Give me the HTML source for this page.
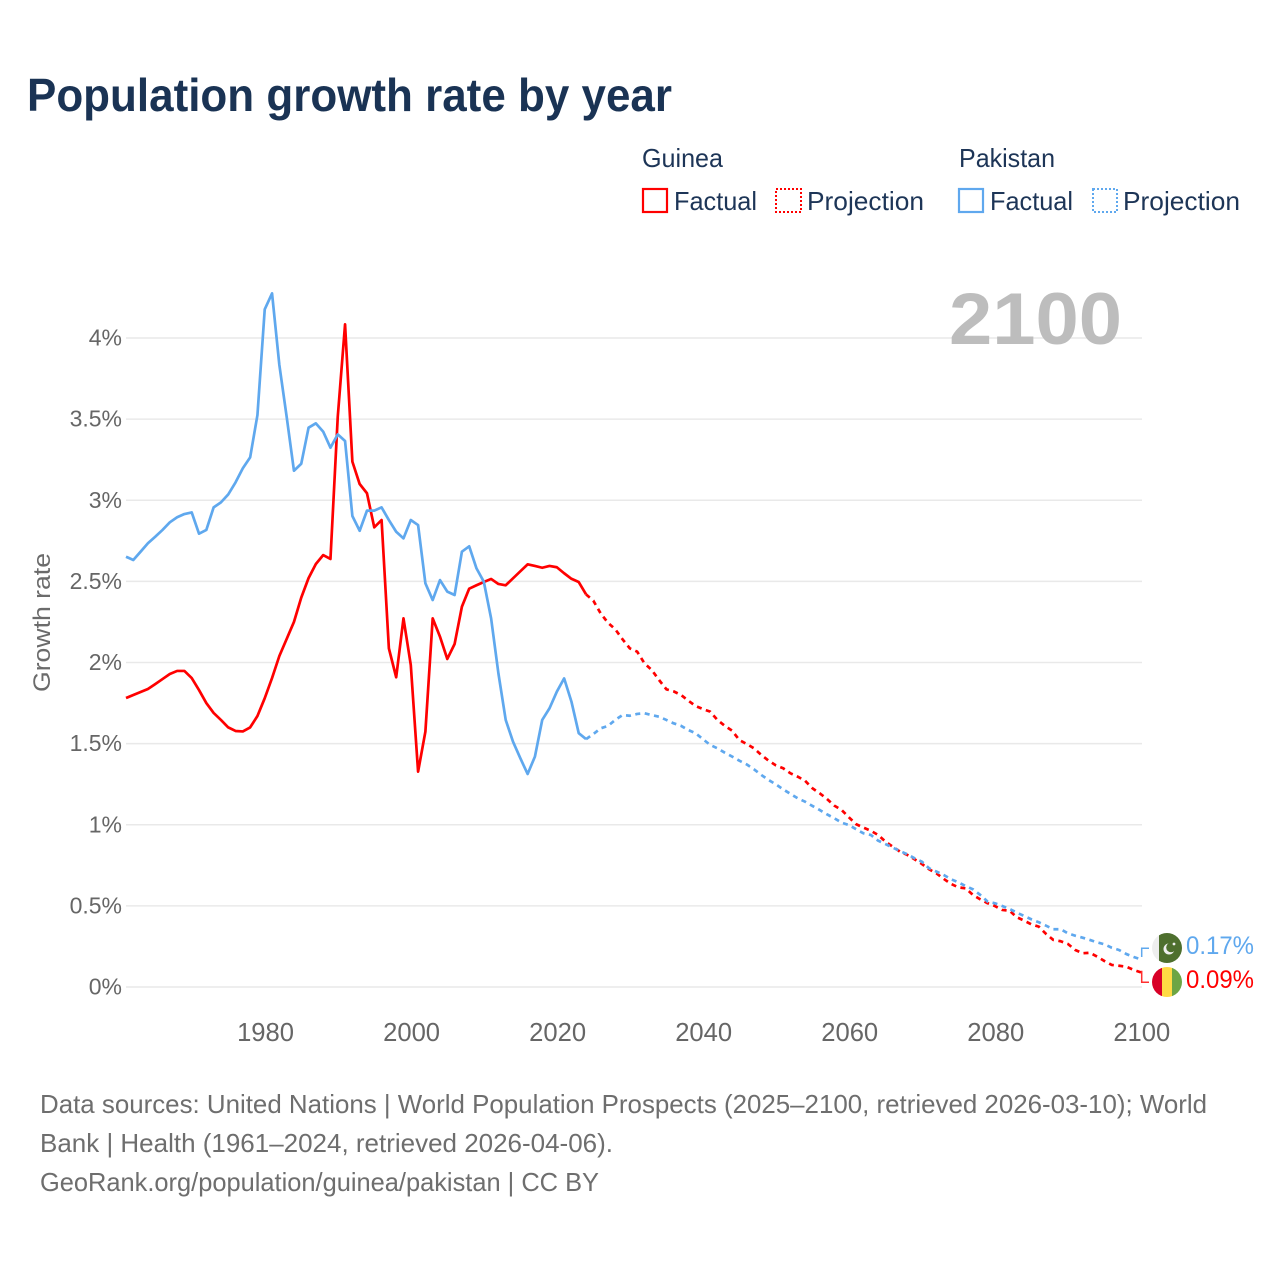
<!DOCTYPE html>
<html lang="en">
<head>
<meta charset="utf-8">
<title>Population growth rate by year</title>
<style>
html,body{margin:0;padding:0;background:#fff}
svg{display:block}
text{font-family:"Liberation Sans",sans-serif}
</style>
</head>
<body>
<svg id="chart" xmlns="http://www.w3.org/2000/svg" width="1280" height="1280" viewBox="0 0 1280 1280">
  <rect x="0" y="0" width="1280" height="1280" fill="#fff"/>
  <text x="27" y="111" font-size="46" font-weight="700" fill="#1a3354" textLength="645" lengthAdjust="spacingAndGlyphs">Population growth rate by year</text>

  <g fill="#1d3557" font-size="26">
    <text x="642" y="167" textLength="81" lengthAdjust="spacingAndGlyphs">Guinea</text>
    <rect x="643" y="189" width="24" height="23" fill="none" stroke="#ff0000" stroke-width="2.2"/>
    <text x="674" y="210" textLength="83" lengthAdjust="spacingAndGlyphs">Factual</text>
    <rect x="776" y="189" width="25" height="23" fill="none" stroke="#ff0000" stroke-width="2" stroke-dasharray="2 2"/>
    <text x="807" y="210" textLength="117" lengthAdjust="spacingAndGlyphs">Projection</text>
    <text x="959" y="167" textLength="96" lengthAdjust="spacingAndGlyphs">Pakistan</text>
    <rect x="959" y="189" width="24" height="23" fill="none" stroke="#5fa8ee" stroke-width="2.2"/>
    <text x="990" y="210" textLength="83" lengthAdjust="spacingAndGlyphs">Factual</text>
    <rect x="1093" y="189" width="24" height="23" fill="none" stroke="#5fa8ee" stroke-width="2" stroke-dasharray="2 2"/>
    <text x="1123" y="210" textLength="117" lengthAdjust="spacingAndGlyphs">Projection</text>
  </g>

  <text transform="translate(50,622.5) rotate(-90)" text-anchor="middle" font-size="24" fill="#6b6b6b" textLength="139" lengthAdjust="spacingAndGlyphs">Growth rate</text>

  <g id="grid"></g>
  <g id="yticks"></g>
  <g id="xticks"></g>

  <text x="949" y="344" font-size="73" font-weight="700" fill="#bdbdbd" textLength="173" lengthAdjust="spacingAndGlyphs">2100</text>

  <g id="series"></g>

  <path d="M1141.7 957V948.3H1149" fill="none" stroke="#5fa8ee" stroke-width="1.5"/>
  <path d="M1141.7 970.7V982.3H1149" fill="none" stroke="#ff3030" stroke-width="1.5"/>

  <defs>
    <clipPath id="flag-clip-pk"><circle cx="1167" cy="948" r="15"/></clipPath>
    <clipPath id="flag-clip-gn"><circle cx="1167" cy="982" r="15"/></clipPath>
  </defs>
  <g clip-path="url(#flag-clip-pk)">
    <rect x="1152" y="933" width="8" height="30" fill="#eeeeee"/>
    <rect x="1159" y="933" width="23" height="30" fill="#4e6f2e"/>
    <circle cx="1169" cy="949" r="5.5" fill="#eeeeee"/>
    <circle cx="1171" cy="947.5" r="4.8" fill="#4e6f2e"/>
    <circle cx="1174" cy="944" r="1.4" fill="#eeeeee"/>
  </g>
  <g clip-path="url(#flag-clip-gn)">
    <rect x="1152" y="967" width="10" height="30" fill="#d80027"/>
    <rect x="1162" y="967" width="10" height="30" fill="#ffda44"/>
    <rect x="1172" y="967" width="10" height="30" fill="#6da544"/>
  </g>
  <text x="1186" y="954" font-size="25" fill="#5fa8ee" textLength="68" lengthAdjust="spacingAndGlyphs">0.17%</text>
  <text x="1186" y="988" font-size="25" fill="#ff0000" textLength="68" lengthAdjust="spacingAndGlyphs">0.09%</text>

  <g font-size="26" fill="#6e6e6e">
    <text x="40" y="1113" textLength="1167" lengthAdjust="spacingAndGlyphs">Data sources: United Nations | World Population Prospects (2025–2100, retrieved 2026-03-10); World</text>
    <text x="40" y="1152" textLength="573" lengthAdjust="spacingAndGlyphs">Bank | Health (1961–2024, retrieved 2026-04-06).</text>
    <text x="40" y="1191" textLength="559" lengthAdjust="spacingAndGlyphs">GeoRank.org/population/guinea/pakistan | CC BY</text>
  </g>
</svg>
<script>
const factualStartYear = 1961;
const projectionStartYear = 2024;
const xTickYears = [1980, 2000, 2020, 2040, 2060, 2080, 2100];
const yTickValues = [0, 0.5, 1, 1.5, 2, 2.5, 3, 3.5, 4];
const yTickLabels = ['0%', '0.5%', '1%', '1.5%', '2%', '2.5%', '3%', '3.5%', '4%'];

const guineaFactual = [1.781,1.80,1.818,1.837,1.867,1.898,1.929,1.948,1.948,1.904,1.83,1.75,1.689,1.646,1.60,1.578,1.575,1.60,1.67,1.78,1.904,2.04,2.145,2.25,2.40,2.52,2.607,2.662,2.638,3.515,4.084,3.238,3.10,3.043,2.833,2.878,2.087,1.909,2.272,1.985,1.327,1.574,2.272,2.159,2.022,2.114,2.344,2.455,2.476,2.496,2.515,2.484,2.476,2.519,2.562,2.605,2.595,2.584,2.595,2.587,2.55,2.516,2.496,2.42];
const guineaProjection = [2.42,2.381,2.303,2.245,2.205,2.143,2.087,2.067,1.995,1.954,1.892,1.835,1.822,1.80,1.765,1.732,1.713,1.697,1.646,1.61,1.58,1.522,1.498,1.471,1.43,1.395,1.366,1.348,1.317,1.296,1.271,1.225,1.194,1.159,1.118,1.091,1.046,1.003,0.982,0.963,0.937,0.896,0.865,0.834,0.814,0.787,0.758,0.725,0.70,0.666,0.635,0.614,0.608,0.567,0.54,0.516,0.499,0.475,0.47,0.43,0.409,0.386,0.372,0.327,0.29,0.282,0.265,0.228,0.208,0.211,0.187,0.16,0.136,0.131,0.125,0.105,0.09];
const pakistanFactual = [2.652,2.632,2.683,2.735,2.775,2.817,2.864,2.895,2.915,2.925,2.794,2.817,2.956,2.987,3.036,3.11,3.197,3.264,3.525,4.177,4.275,3.834,3.515,3.182,3.225,3.447,3.474,3.423,3.324,3.406,3.365,2.903,2.812,2.936,2.936,2.956,2.878,2.806,2.765,2.878,2.847,2.488,2.385,2.508,2.437,2.416,2.683,2.716,2.58,2.498,2.272,1.933,1.646,1.512,1.41,1.313,1.42,1.646,1.718,1.82,1.902,1.759,1.564,1.528];
const pakistanProjection = [1.528,1.559,1.594,1.609,1.646,1.676,1.672,1.683,1.687,1.676,1.666,1.646,1.625,1.61,1.584,1.564,1.528,1.492,1.471,1.444,1.42,1.395,1.372,1.342,1.307,1.276,1.249,1.218,1.19,1.163,1.142,1.116,1.091,1.064,1.04,1.013,0.998,0.972,0.947,0.937,0.902,0.881,0.859,0.838,0.818,0.793,0.772,0.731,0.711,0.69,0.664,0.645,0.622,0.602,0.567,0.526,0.516,0.499,0.481,0.458,0.438,0.417,0.399,0.378,0.356,0.356,0.331,0.316,0.304,0.29,0.275,0.263,0.242,0.228,0.203,0.185,0.17];

const SVG_NS = 'http://www.w3.org/2000/svg';
function xScale(year) { return 126 + (year - 1961) * (1015 / 139); }
function yScale(value) { return 987 - value * 162.25; }

const gridGroup = document.getElementById('grid');
const yTickGroup = document.getElementById('yticks');
const xTickGroup = document.getElementById('xticks');
const seriesGroup = document.getElementById('series');

yTickValues.forEach(function (value, i) {
  const line = document.createElementNS(SVG_NS, 'line');
  
  
  line.setAttribute('x1', 126);
  line.setAttribute('x2', 1142);
  line.setAttribute('y1', yScale(value));
  line.setAttribute('y2', yScale(value));
  line.setAttribute('stroke', '#e9e9e9');
  line.setAttribute('stroke-width', 1.6);
  gridGroup.appendChild(line);

  const label = document.createElementNS(SVG_NS, 'text');
  
  
  label.setAttribute('x', 122);
  label.setAttribute('y', yScale(value) + 7.5);
  label.setAttribute('text-anchor', 'end');
  label.setAttribute('font-size', 23);
  label.setAttribute('fill', '#666');
  label.textContent = yTickLabels[i];
  yTickGroup.appendChild(label);
});

xTickYears.forEach(function (year) {
  const label = document.createElementNS(SVG_NS, 'text');
  
  
  label.setAttribute('x', xScale(year) + 0.8);
  label.setAttribute('y', 1041);
  label.setAttribute('text-anchor', 'middle');
  label.setAttribute('font-size', 25.6);
  label.setAttribute('fill', '#666');
  label.textContent = String(year);
  xTickGroup.appendChild(label);
});

function drawSeries(name, values, startYear, color, dash) {
  const path = document.createElementNS(SVG_NS, 'polyline');
  
  
  const points = values.map(function (value, i) {
    return xScale(startYear + i).toFixed(2) + ',' + yScale(value).toFixed(2);
  });
  path.setAttribute('points', points.join(' '));
  path.setAttribute('fill', 'none');
  path.setAttribute('stroke', color);
  path.setAttribute('stroke-width', 2.7);
  path.setAttribute('stroke-linejoin', 'round');
  if (dash) path.setAttribute('stroke-dasharray', dash);
  seriesGroup.appendChild(path);
}

drawSeries('guinea-factual-line', guineaFactual, factualStartYear, '#ff0000', null);
drawSeries('guinea-projection-line', guineaProjection, projectionStartYear, '#ff0000', '5 4.5');
drawSeries('pakistan-factual-line', pakistanFactual, factualStartYear, '#5fa8ee', null);
drawSeries('pakistan-projection-line', pakistanProjection, projectionStartYear, '#5fa8ee', '5 4.5');
</script>
</body>
</html>
